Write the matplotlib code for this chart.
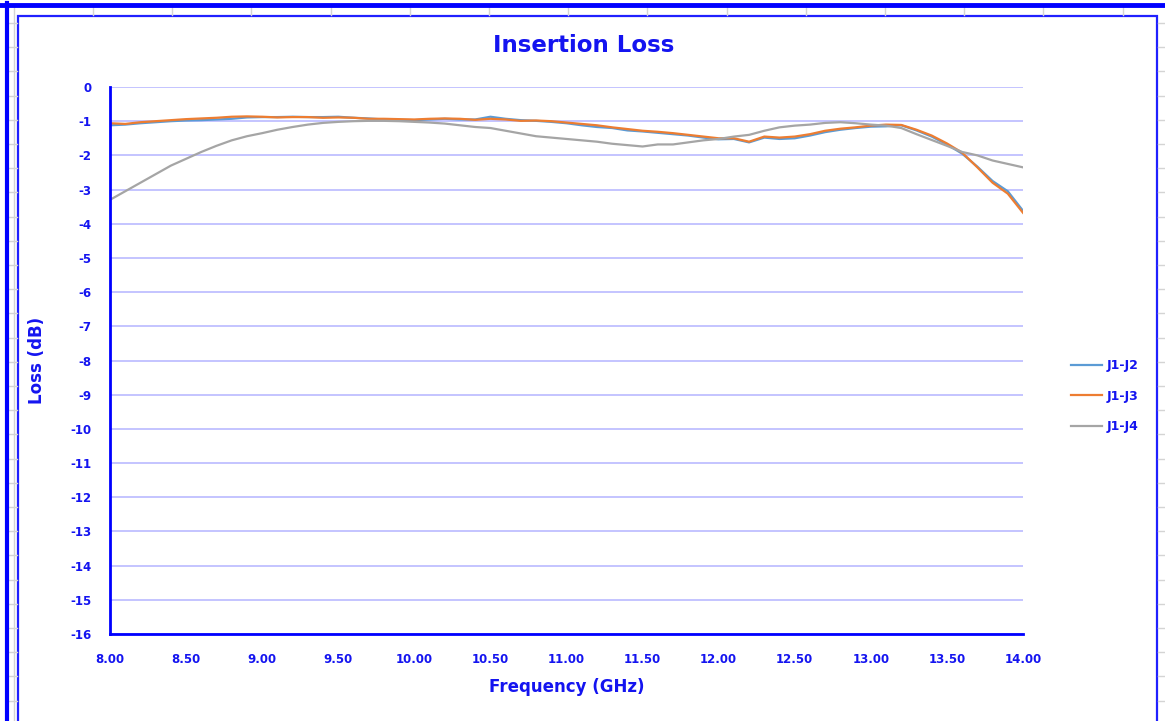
import numpy as np
import matplotlib.pyplot as plt
from matplotlib.lines import Line2D
from matplotlib.patches import Rectangle

# Frequenz in GHz
freq = [8.0, 8.1, 8.2, 8.3, 8.4, 8.5, 8.6, 8.7, 8.8, 8.9,
        9.0, 9.1, 9.2, 9.3, 9.4, 9.5, 9.6, 9.7, 9.8, 9.9,
        10.0, 10.1, 10.2, 10.3, 10.4, 10.5, 10.6, 10.7, 10.8, 10.9,
        11.0, 11.1, 11.2, 11.3, 11.4, 11.5, 11.6, 11.7, 11.8, 11.9,
        12.0, 12.1, 12.2, 12.3, 12.4, 12.5, 12.6, 12.7, 12.8, 12.9,
        13.0, 13.1, 13.2, 13.3, 13.4, 13.5, 13.6, 13.7, 13.8, 13.9, 14.0]

j1_j2 = [-1.12, -1.10, -1.06, -1.03, -1.00, -0.98, -0.97, -0.95, -0.93, -0.89,
         -0.88, -0.88, -0.87, -0.88, -0.88, -0.87, -0.90, -0.92, -0.95, -0.96,
         -0.97, -0.95, -0.93, -0.95, -0.95, -0.87, -0.93, -0.97, -0.99, -1.02,
         -1.06, -1.12, -1.17, -1.20, -1.27, -1.30, -1.34, -1.38, -1.42, -1.48,
         -1.53, -1.52, -1.62, -1.48, -1.52, -1.50, -1.42, -1.32, -1.25, -1.20,
         -1.16, -1.15, -1.12, -1.27, -1.45, -1.68, -1.95, -2.33, -2.75, -3.05, -3.62]

j1_j3 = [-1.06, -1.08, -1.03, -1.00, -0.97, -0.94, -0.92, -0.90, -0.87, -0.86,
         -0.87, -0.89, -0.88, -0.88, -0.90, -0.89, -0.90, -0.93, -0.93, -0.94,
         -0.95, -0.93, -0.92, -0.93, -0.96, -0.93, -0.95, -0.99, -0.98, -1.00,
         -1.04, -1.08, -1.12, -1.18, -1.23, -1.28, -1.31, -1.35, -1.40, -1.45,
         -1.50, -1.50, -1.60, -1.45, -1.48, -1.45, -1.38, -1.28, -1.22, -1.18,
         -1.13, -1.10, -1.11, -1.25, -1.42, -1.65, -1.92, -2.35, -2.80, -3.12, -3.68]

j1_j4 = [-3.30, -3.05, -2.80, -2.55, -2.30, -2.10, -1.90, -1.72, -1.56, -1.44,
         -1.35, -1.25, -1.17, -1.10, -1.05, -1.02, -1.00, -0.99, -0.99, -1.00,
         -1.02, -1.04, -1.07, -1.12, -1.17, -1.20, -1.28, -1.36, -1.44, -1.48,
         -1.52, -1.56, -1.60, -1.66, -1.70, -1.74, -1.68, -1.68, -1.62, -1.56,
         -1.52, -1.45, -1.40, -1.28, -1.18, -1.13, -1.10, -1.05, -1.03, -1.06,
         -1.10, -1.13, -1.20, -1.38, -1.55, -1.72, -1.90, -2.00, -2.15, -2.25, -2.35]

x_ticks = [8.0, 8.5, 9.0, 9.5, 10.0, 10.5, 11.0, 11.5, 12.0, 12.5, 13.0, 13.5, 14.0]
y_ticks = list(range(0, -17, -1))

blau = "#1414F0"
plt.rcParams['font.family'] = ['DejaVu Sans']

W, H = 1165, 721
fig = plt.figure(figsize=(W / 100, H / 100), dpi=100)

# Tabellenhintergrund (Excel-Zellenraster) und Rahmen
zell = "#D4D4D4"
for xv in np.arange(93, W, 79.2):
    fig.add_artist(Line2D([xv / W, xv / W], [1 - 6 / H, 1 - 15 / H], color=zell, lw=1))
for yv in np.arange(23, H, 24.2):
    fig.add_artist(Line2D([8 / W, 17 / W], [1 - yv / H, 1 - yv / H], color=zell, lw=1))
    fig.add_artist(Line2D([1158 / W, 1.0], [1 - yv / H, 1 - yv / H], color=zell, lw=1))
fig.add_artist(Line2D([14 / W, 14 / W], [0, 1 - 6 / H], color=zell, lw=1))
fig.add_artist(Line2D([0, 1], [1 - 4.5 / H, 1 - 4.5 / H], color="#0000FF", lw=3.5))
fig.add_artist(Line2D([6.5 / W, 6.5 / W], [0, 1 - 3 / H], color="#0000FF", lw=3))
fig.add_artist(Rectangle((17.5 / W, -0.1), (1157 - 17.5) / W, 1.1 - 15.5 / H,
                         fill=False, ec="#2020FF", lw=1.6, transform=fig.transFigure))

ax = fig.add_axes([110 / W, 1 - 634 / H, (1023 - 110) / W, (634 - 87) / H])
ax.plot(freq, j1_j2, color="#5B9BD5", lw=1.6, label="J1-J2")
ax.plot(freq, j1_j3, color="#ED7D31", lw=1.6, label="J1-J3")
ax.plot(freq, j1_j4, color="#A5A5A5", lw=1.6, label="J1-J4")

ax.set_xlim(8, 14)
ax.set_ylim(-16, 0)
ax.set_xticks(x_ticks)
ax.set_xticklabels([f"{v:.2f}" for v in x_ticks])
ax.set_yticks(y_ticks)
ax.set_yticklabels([str(v) for v in y_ticks])
ax.tick_params(length=0, colors=blau, labelsize=8.5)
ax.tick_params(axis="y", pad=13.5)
ax.tick_params(axis="x", pad=13.5)
for lab in ax.get_xticklabels() + ax.get_yticklabels():
    lab.set_fontweight("bold")

ax.grid(axis="y", color="#C4C4FF", lw=1.4)
ax.set_axisbelow(True)
for s in ["top", "right"]:
    ax.spines[s].set_visible(False)
for s in ["left", "bottom"]:
    ax.spines[s].set_color("#0000FF")
    ax.spines[s].set_linewidth(2)

ax.set_xlabel("Frequency (GHz)", color=blau, fontsize=12, fontweight="bold", labelpad=9)
ax.set_ylabel("Loss (dB)", color=blau, fontsize=12, fontweight="bold", labelpad=17)
fig.text(584 / W, 1 - 46 / H, "Insertion Loss", color=blau, fontsize=16.5,
         fontweight="bold", ha="center", va="center")

leg = ax.legend(loc="center left", bbox_to_anchor=(1.04, 0.435), frameon=False,
                handlelength=2.5, handletextpad=0.4, labelspacing=1.4, fontsize=9)
for t in leg.get_texts():
    t.set_color(blau)
    t.set_fontweight("bold")

fig.savefig("out.png", dpi=100, facecolor="white")
